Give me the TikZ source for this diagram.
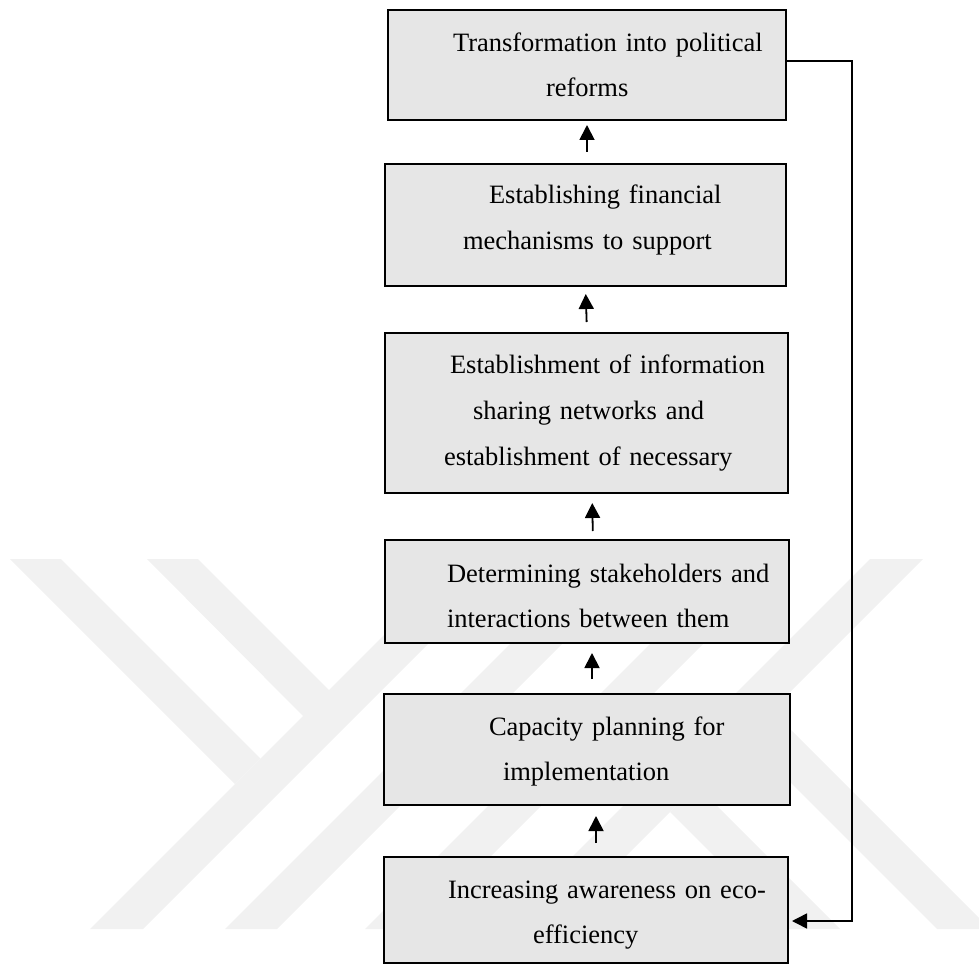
\documentclass[tikz,border=0pt]{standalone}
\usepackage{fontspec}
\setmainfont{Liberation Serif}
\usetikzlibrary{arrows.meta}
\definecolor{boxgray}{RGB}{230,230,230}
\definecolor{wmgray}{RGB}{241,241,241}
\begin{document}
\begin{tikzpicture}[x=1pt,y=-1pt,
  box/.style={draw=black, line width=2pt, fill=boxgray, anchor=north west,
    inner sep=0pt, outer sep=0pt, align=left,
    execute at begin node={\setlength{\parindent}{0pt}},
    font=\fontsize{26.5pt}{45pt}\selectfont},
  wide/.style={font=\fontsize{26.5pt}{46pt}\selectfont},
  arr/.style={line width=1.8pt, -{Triangle[width=15pt,length=15pt]}},
  fbline/.style={line width=1.6pt, -{Triangle[width=15pt,length=15pt]}},
  wm/.style={fill=wmgray, draw=none}]
\useasboundingbox (0,0) rectangle (979,965);
% watermark
\begin{scope}
\clip (0,559) rectangle (979,929);
\fill[wm] (90,929) -- (143,929) -- (513,559) -- (460,559) -- cycle;
\fill[wm] (225,929) -- (277,929) -- (647,559) -- (595,559) -- cycle;
\fill[wm] (365,929) -- (418,929) -- (788,559) -- (735,559) -- cycle;
\fill[wm] (500,929) -- (553,929) -- (923,559) -- (870,559) -- cycle;
\fill[wm] (10,559) -- (61,559) -- (260.5,758.5) -- (235,784) -- cycle;
\fill[wm] (147,559) -- (198,559) -- (329.5,690.5) -- (303.5,716.5) -- cycle;
\fill[wm] (787,929) -- (840,929) -- (696.5,785.5) -- (670,812) -- cycle;
\fill[wm] (937,929) -- (990,929) -- (771.5,710.5) -- (745,737) -- cycle;
\end{scope}
% boxes
\node[box, text width=398pt, minimum height=110pt] (b1) at (388,10)
  {\hspace*{65pt}\rule{0pt}{42pt}\mbox{Transformation into political}\\\hspace*{158pt}\mbox{reforms}\rule[-23pt]{0pt}{23pt}};
\node[box, wide, text width=401pt, minimum height=122pt] (b2) at (385,164)
  {\hspace*{104pt}\rule{0pt}{40pt}\mbox{Establishing financial}\\\hspace*{78pt}\mbox{mechanisms to support}\rule[-36pt]{0pt}{36pt}};
\node[box, wide, text width=403pt, minimum height=160pt] (b3) at (385,333)
  {\hspace*{65pt}\rule{0pt}{40pt}\mbox{Establishment of information}\\\hspace*{88pt}\mbox{sharing networks and}\\\hspace*{59pt}\mbox{establishment of necessary}\rule[-28pt]{0pt}{28pt}};
\node[box, text width=404pt, minimum height=103pt] (b4) at (385,540)
  {\hspace*{62pt}\rule{0pt}{42pt}\mbox{Determining stakeholders and}\\\hspace*{62pt}\mbox{interactions between them}\rule[-16pt]{0pt}{16pt}};
\node[box, text width=406pt, minimum height=111pt] (b5) at (384,694)
  {\hspace*{105pt}\rule{0pt}{41pt}\mbox{Capacity planning for}\\\hspace*{119pt}\mbox{implementation}\rule[-25pt]{0pt}{25pt}};
\node[box, text width=404pt, minimum height=106pt] (b6) at (384,857)
  {\hspace*{64pt}\rule{0pt}{41pt}\mbox{Increasing awareness on eco-}\\\hspace*{149pt}\mbox{efficiency}\rule[-20pt]{0pt}{20pt}};
% arrows
\draw[arr, shorten <=12pt, shorten >=5pt] ([xshift=1.5pt]b2.north) -- ([xshift=0pt]b1.south);
\draw[arr, shorten <=11pt, shorten >=8pt] ([xshift=0.5pt]b3.north) -- ([xshift=0pt]b2.south);
\draw[arr, shorten <=9pt, shorten >=10pt] ([xshift=6pt]b4.north) -- ([xshift=5.5pt]b3.south);
\draw[arr, shorten <=15pt, shorten >=10pt] ([xshift=5pt]b5.north) -- ([xshift=5pt]b4.south);
\draw[arr, shorten <=14pt, shorten >=11pt] ([xshift=10pt]b6.north) -- ([xshift=9pt]b5.south);
% feedback
\coordinate (fr) at (852,0);
\coordinate (fa) at ([yshift=4pt]b1.east);
\coordinate (fb) at ([yshift=-11pt]b6.east);
\draw[fbline, shorten >=4pt] (fa) -- (fa -| fr) -- (fb -| fr) -- (fb);
\end{tikzpicture}
\end{document}
